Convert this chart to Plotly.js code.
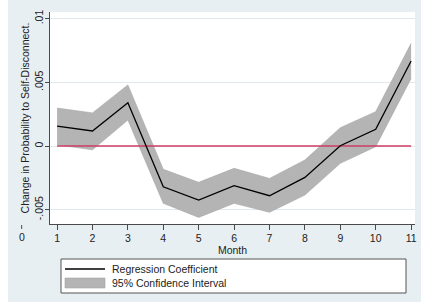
<!DOCTYPE html>
<html><head><meta charset="utf-8">
<script src="https://cdn.plot.ly/plotly-3.0.1.min.js"></script>
<style>html,body{margin:0;padding:0;background:#fff}#chart{width:421px;height:307px}</style>
</head><body><div id="chart"></div>
<script>
// ---- data ----
const months = [1, 2, 3, 4, 5, 6, 7, 8, 9, 10, 11];
const coef   = [0.00157, 0.00118, 0.0034, -0.0032, -0.00424, -0.00311, -0.0039, -0.00246, 0.00002, 0.00131, 0.00667];
const upper  = [0.00298, 0.0026, 0.0048, -0.00183, -0.00285, -0.00175, -0.00254, -0.0011, 0.00144, 0.0027, 0.00806];
const lower  = [0.0001, -0.0003, 0.00204, -0.0045, -0.0056, -0.0045, -0.0052, -0.00385, -0.00136, -0.00005, 0.0053];
const zeroRef = [0, 0, 0, 0, 0, 0, 0, 0, 0, 0, 0];
const yTickVals = [-0.005, 0, 0.005, 0.01];
const yTickText = ['-.005', '0', '.005', '.01'];
const xTickText = ['1', '2', '3', '4', '5', '6', '7', '8', '9', '10', '11'];
const extraXTick = {value: 0, label: '0'};
const legendLabels = ['Regression Coefficient', '95% Confidence Interval'];
const xTitle = 'Month';
const yTitle = 'Change in Probability to Self-Disconnect.';

// ---- layout geometry ----
const W = 421, H = 307, M = {l: 50, r: 6, t: 12, b: 83};
const pw = W - M.l - M.r, ph = H - M.t - M.b;
const px = v => (v - M.l) / pw;
const py = v => (H - M.b - v) / ph;
const xr = [0.80, 11.11], yr = [-0.00612, 0.01052];
const xPaper = v => (v - xr[0]) / (xr[1] - xr[0]);

const FONT = 'Liberation Sans, Arial, sans-serif';
const BG = '#e8eff2';
const AX = '#4a4a4a';

const traces = [
  {x: months, y: lower, type: 'scatter', mode: 'lines', line: {width: 0.6, color: '#a6a6a6'}, showlegend: false, hoverinfo: 'skip'},
  {x: months, y: upper, type: 'scatter', mode: 'lines', fill: 'tonexty', fillcolor: '#b4b4b4', line: {width: 0.6, color: '#a6a6a6'}, showlegend: false, hoverinfo: 'skip'},
  {x: months, y: zeroRef, type: 'scatter', mode: 'lines', line: {width: 1.6, color: '#cc3d63'}, showlegend: false},
  {x: months, y: coef, type: 'scatter', mode: 'lines', line: {width: 1.3, color: '#000000'}, showlegend: false}
];

const shapes = [
  // white strips around the light graph region
  {type: 'rect', xref: 'paper', yref: 'paper', x0: px(0), x1: px(8), y0: py(0), y1: py(H), fillcolor: '#ffffff', line: {width: 0}, layer: 'above'},
  {type: 'rect', xref: 'paper', yref: 'paper', x0: px(0), x1: px(W), y0: py(302), y1: py(H), fillcolor: '#ffffff', line: {width: 0}, layer: 'above'},
  // tick for the stray "0" label
  {type: 'line', xref: 'paper', yref: 'paper', x0: xPaper(extraXTick.value), x1: xPaper(extraXTick.value), y0: py(225), y1: py(229), line: {color: AX, width: 1}},
  // legend box
  {type: 'rect', xref: 'paper', yref: 'paper', x0: px(61), x1: px(406), y0: py(259), y1: py(293), fillcolor: '#ffffff', line: {color: '#555555', width: 1}},
  {type: 'line', xref: 'paper', yref: 'paper', x0: px(65), x1: px(105), y0: py(269), y1: py(269), line: {color: '#000000', width: 1.3}},
  {type: 'rect', xref: 'paper', yref: 'paper', x0: px(65), x1: px(105), y0: py(278), y1: py(288), fillcolor: '#b4b4b4', line: {color: '#a6a6a6', width: 0.6}}
];

const annotations = [
  {xref: 'paper', yref: 'paper', x: xPaper(extraXTick.value), y: py(237), text: extraXTick.label, showarrow: false, xanchor: 'center', yanchor: 'middle', font: {family: FONT, size: 10.5, color: '#222'}},
  {xref: 'paper', yref: 'paper', x: px(110), y: py(269), text: legendLabels[0], showarrow: false, xanchor: 'left', yanchor: 'middle', font: {family: FONT, size: 10.5, color: '#222'}},
  {xref: 'paper', yref: 'paper', x: px(110), y: py(283), text: legendLabels[1], showarrow: false, xanchor: 'left', yanchor: 'middle', font: {family: FONT, size: 10.5, color: '#222'}}
];

const layout = {
  width: W, height: H,
  margin: M,
  paper_bgcolor: BG,
  plot_bgcolor: '#ffffff',
  showlegend: false,
  font: {family: FONT, size: 10.5, color: '#222'},
  xaxis: {
    range: xr, tickvals: months, ticktext: xTickText,
    ticks: 'outside', ticklen: 5, tickcolor: AX, tickwidth: 1, ticklabelstandoff: -1,
    showline: true, linecolor: AX, linewidth: 1, mirror: false,
    showgrid: false, zeroline: false,
    tickfont: {family: FONT, size: 10.5, color: '#222'},
    title: {text: xTitle, font: {family: FONT, size: 10.5, color: '#222'}, standoff: 0},
    automargin: false
  },
  yaxis: {
    range: yr, tickvals: yTickVals, ticktext: yTickText,
    ticks: 'outside', ticklen: 4, tickcolor: AX, tickwidth: 1, tickangle: -90, ticklabelstandoff: -2,
    showline: true, linecolor: AX, linewidth: 1,
    showgrid: true, gridcolor: '#e0e9ed', gridwidth: 1, zeroline: false,
    tickfont: {family: FONT, size: 10.5, color: '#222'},
    title: {text: yTitle, font: {family: FONT, size: 10.5, color: '#222'}, standoff: 1},
    automargin: false
  },
  shapes: shapes,
  annotations: annotations
};

Plotly.newPlot('chart', traces, layout, {displayModeBar: false, staticPlot: true});
</script>
</body></html>
